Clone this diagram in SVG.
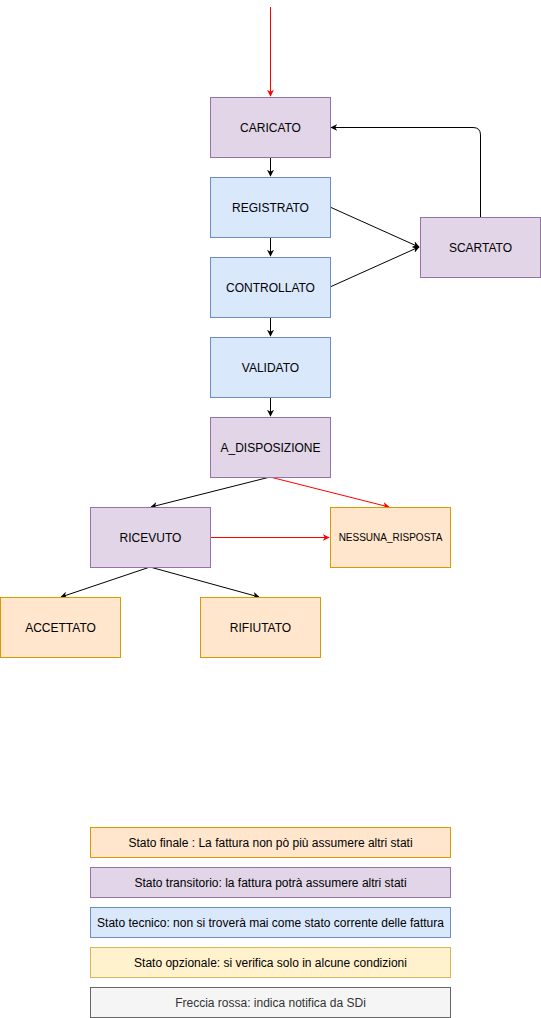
<svg xmlns="http://www.w3.org/2000/svg" width="541" height="1018" viewBox="0 0 541 1018">
<style>
.p{fill:#e1d5e7;stroke:#9673a6}
.b{fill:#dae8fc;stroke:#6c8ebf}
.o{fill:#ffe6cc;stroke:#d79b00}
.y{fill:#fff2cc;stroke:#d6b656}
.g{fill:#f5f5f5;stroke:#666666}
text{font-family:"Liberation Sans",Arial,sans-serif;font-size:12px;fill:#000;text-anchor:middle;dominant-baseline:central}
.k{fill:none;stroke:#000;stroke-width:1}
.r{fill:none;stroke:#ff0000;stroke-width:1}
</style>
<defs>
<marker id="ak" viewBox="0 0 10 10" refX="9" refY="5" markerWidth="7" markerHeight="7" orient="auto" markerUnits="userSpaceOnUse"><path d="M0,0 L10,5 L0,10 L3,5 Z" fill="#000"/></marker>
<marker id="ar" viewBox="0 0 10 10" refX="9" refY="5" markerWidth="7" markerHeight="7" orient="auto" markerUnits="userSpaceOnUse"><path d="M0,0 L10,5 L0,10 L3,5 Z" fill="#ff0000"/></marker>
</defs>
<g id="connectors">
<path class="r" d="M270.5,7 V96" marker-end="url(#ar)"/>
<path class="k" d="M270.5,157 V176" marker-end="url(#ak)"/>
<path class="k" d="M270.5,237 V256" marker-end="url(#ak)"/>
<path class="k" d="M270.5,317 V336" marker-end="url(#ak)"/>
<path class="k" d="M270.5,397 V416" marker-end="url(#ak)"/>
<path class="k" d="M480.5,217 V135 Q480.5,127.5 473,127.5 H331" marker-end="url(#ak)"/>
<path class="k" d="M330,207 L419,247" marker-end="url(#ak)"/>
<path class="k" d="M330,287 L419,247" marker-end="url(#ak)"/>
<path class="k" d="M270,477 L151,507" marker-end="url(#ak)"/>
<path class="r" d="M270,477 L389,507" marker-end="url(#ar)"/>
<path class="r" d="M210,537.5 H329" marker-end="url(#ar)"/>
<path class="k" d="M150,567 L61,597" marker-end="url(#ak)"/>
<path class="k" d="M150,567 L259,597" marker-end="url(#ak)"/>
</g>
<g id="caricato"><rect class="p" x="210.5" y="97.5" width="120" height="60"/><text x="270.5" y="127.5">CARICATO</text></g>
<g id="registrato"><rect class="b" x="210.5" y="177.5" width="120" height="60"/><text x="270.5" y="207.5">REGISTRATO</text></g>
<g id="controllato"><rect class="b" x="210.5" y="257.5" width="120" height="60"/><text x="270.5" y="287.5">CONTROLLATO</text></g>
<g id="validato"><rect class="b" x="210.5" y="337.5" width="120" height="60"/><text x="270.5" y="367.5">VALIDATO</text></g>
<g id="a_disposizione"><rect class="p" x="210.5" y="417.5" width="120" height="60"/><text x="270.5" y="447.5">A_DISPOSIZIONE</text></g>
<g id="scartato"><rect class="p" x="420.5" y="217.5" width="120" height="60"/><text x="480.5" y="247.5">SCARTATO</text></g>
<g id="ricevuto"><rect class="p" x="90.5" y="507.5" width="120" height="60"/><text x="150.5" y="537.5">RICEVUTO</text></g>
<g id="nessuna_risposta"><rect class="o" x="330.5" y="507.5" width="120" height="60"/><text x="390.5" y="537.5" style="font-size:10px">NESSUNA_RISPOSTA</text></g>
<g id="accettato"><rect class="o" x="0.5" y="597.5" width="120" height="60"/><text x="60.5" y="627.5">ACCETTATO</text></g>
<g id="rifiutato"><rect class="o" x="200.5" y="597.5" width="120" height="60"/><text x="260.5" y="627.5">RIFIUTATO</text></g>
<g id="legend-finale"><rect class="o" x="90.5" y="827.5" width="360" height="30"/><text x="270.5" y="842.5">Stato finale : La fattura non pò più assumere altri stati</text></g>
<g id="legend-transitorio"><rect class="p" x="90.5" y="867.5" width="360" height="30"/><text x="270.5" y="882.5">Stato transitorio: la fattura potrà assumere altri stati</text></g>
<g id="legend-tecnico"><rect class="b" x="90.5" y="907.5" width="360" height="30"/><text x="270.5" y="922.5">Stato tecnico: non si troverà mai come stato corrente delle fattura</text></g>
<g id="legend-opzionale"><rect class="y" x="90.5" y="947.5" width="360" height="30"/><text x="270.5" y="962.5">Stato opzionale: si verifica solo in alcune condizioni</text></g>
<g id="legend-freccia"><rect class="g" x="90.5" y="987.5" width="360" height="30"/><text x="270.5" y="1002.5" style="fill:#333333">Freccia rossa: indica notifica da SDi</text></g>
</svg>
